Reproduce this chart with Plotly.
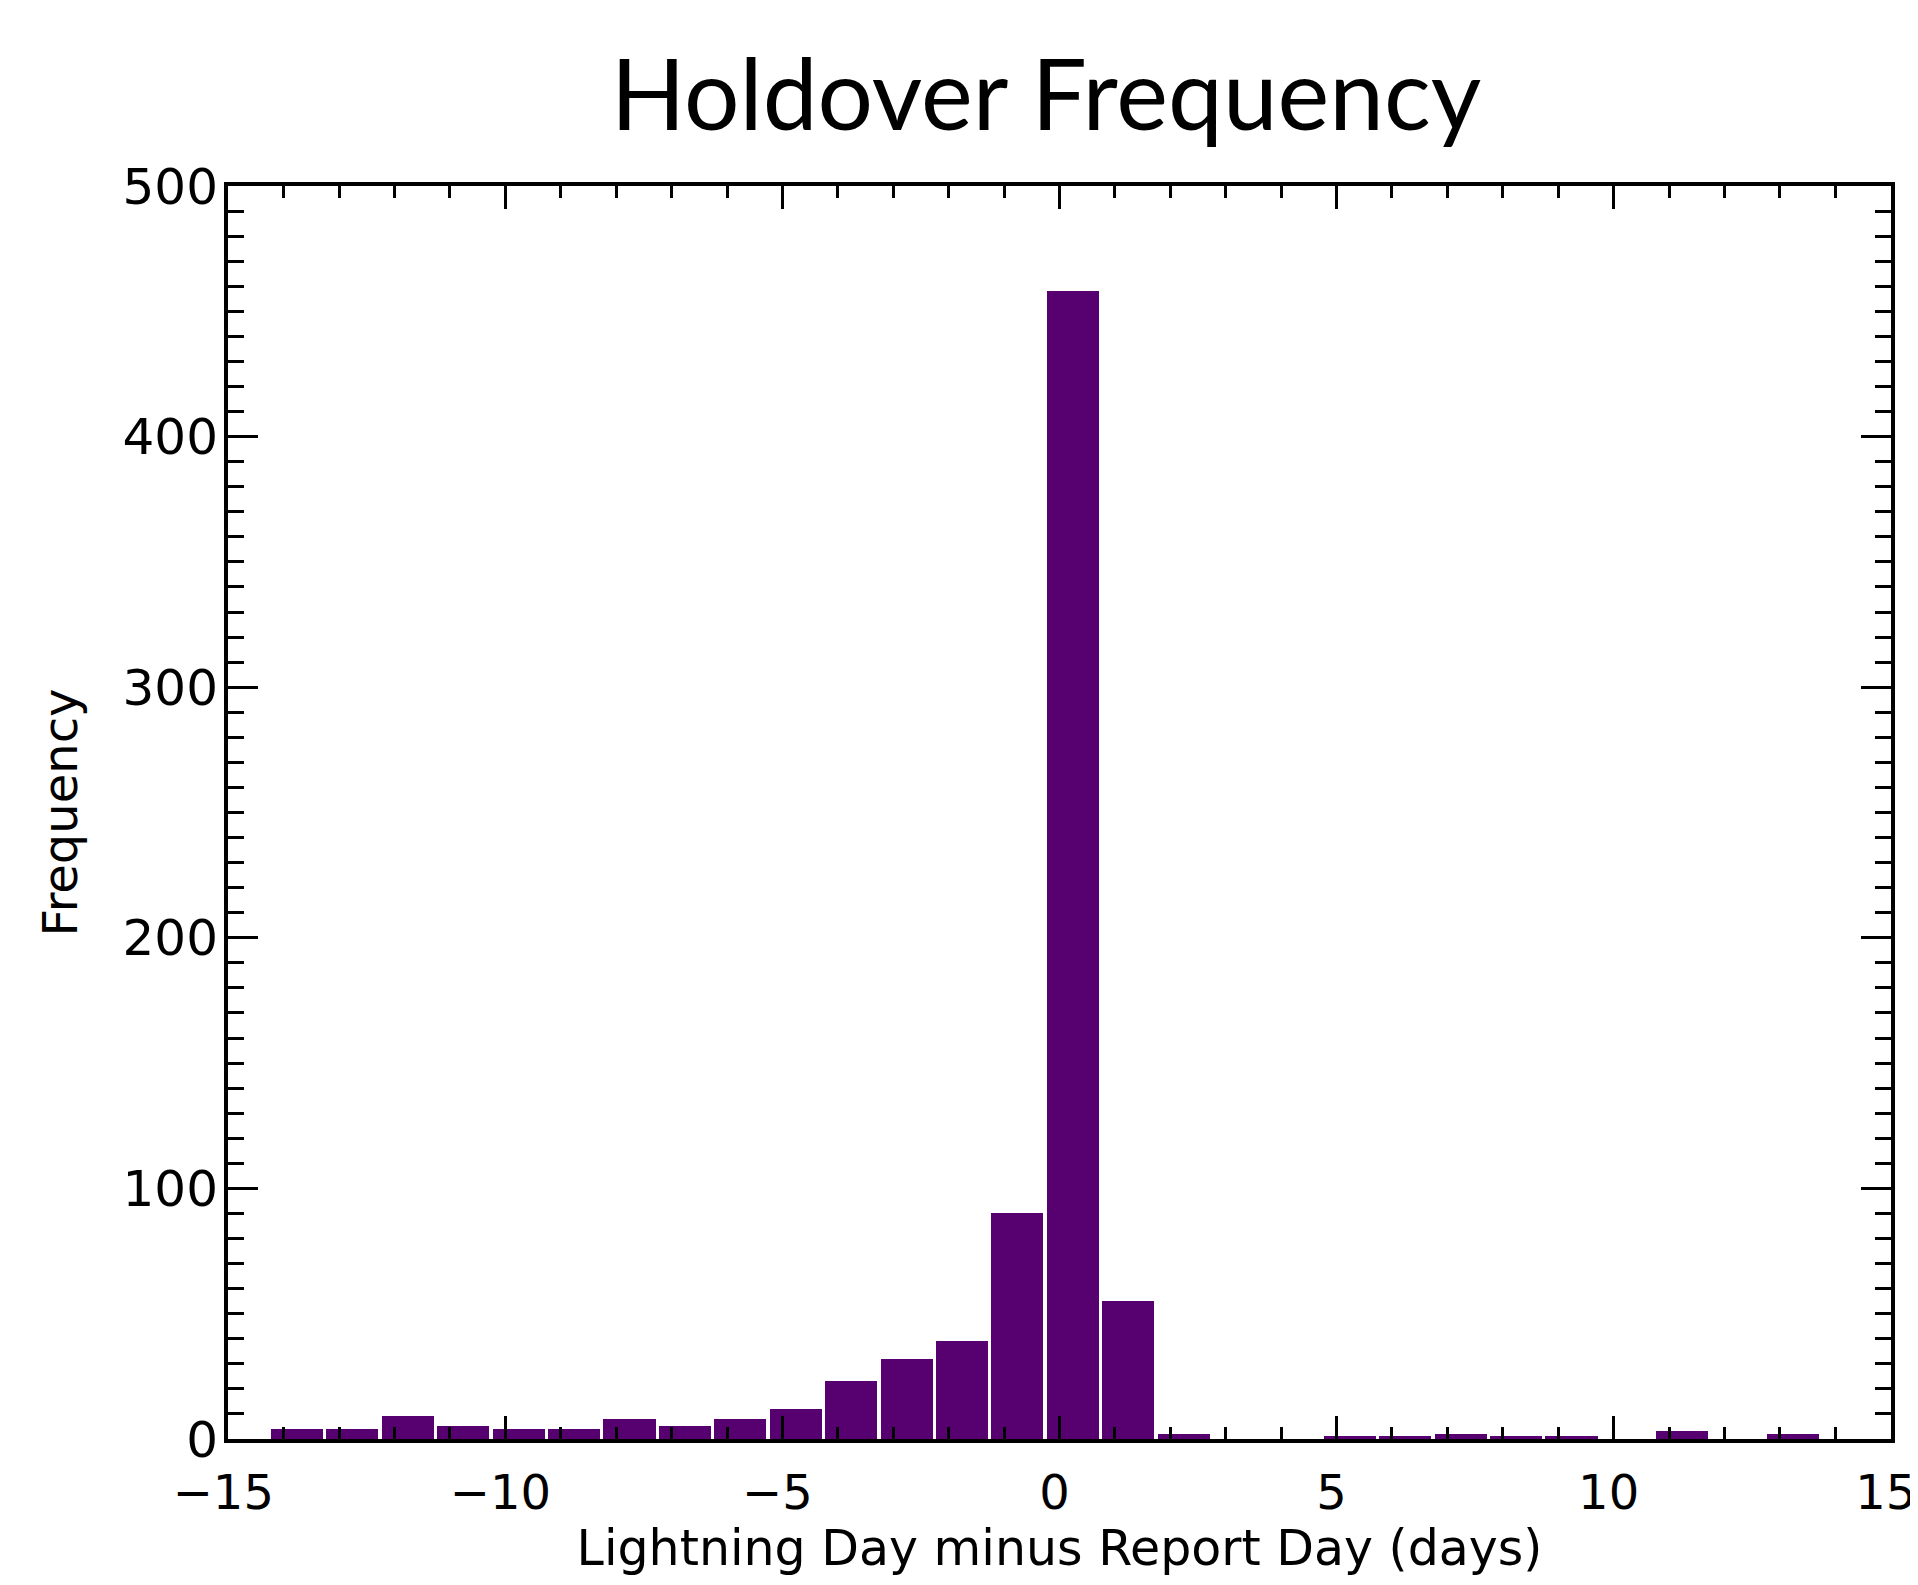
import plotly.graph_objects as go

# Data
days = list(range(-14, 14))
counts = [4, 4, 9, 5, 4, 4, 8, 5, 8, 12, 23, 32, 39, 90, 458, 55,
          2, 0, 0, 1, 1, 2, 1, 1, 0, 3, 0, 2]

title_text = "Holdover Frequency"
x_title = "Lightning Day minus Report Day (days)"
y_title = "Frequency"
x_ticks = [-15, -10, -5, 0, 5, 10, 15]
x_ticklabels = ["\u221215", "\u221210", "\u22125", "0", "5", "10", "15"]
y_ticks = [0, 100, 200, 300, 400, 500]

BAR_COLOR = "#570070"
FONT = "DejaVu Sans"

# page body has an 8px default margin; size the figure to fit the window
W, H = 1910, 1577

fig = go.Figure()
fig.add_trace(go.Bar(
    x=days, y=counts,
    width=0.94, offset=-0.23,
    marker=dict(color=BAR_COLOR, line=dict(width=0)),
    hoverinfo="x+y",
))

axis_common = dict(
    showline=True, linecolor="black", linewidth=4, mirror="allticks",
    ticks="inside", tickcolor="black", tickwidth=3,
    showgrid=False, zeroline=False, automargin=False,
    ticklabeloverflow="allow",
)

fig.update_xaxes(
    range=[-15.005, 15.005], tickvals=x_ticks, ticktext=x_ticklabels, ticklen=23,
    tickfont=dict(family=FONT, size=48, color="black"),
    minor=dict(dtick=1, ticks="inside", ticklen=12, tickwidth=3, tickcolor="black", showgrid=False),
    title=dict(text=x_title, font=dict(family=FONT, size=49, color="black"), standoff=11),
    ticklabelstandoff=8, ticklabelshift=-5,
    **axis_common,
)
fig.update_yaxes(
    range=[0, 500], tickvals=y_ticks, ticklen=30,
    tickfont=dict(family=FONT, size=50, color="black"),
    minor=dict(dtick=10, ticks="inside", ticklen=16, tickwidth=3, tickcolor="black", showgrid=False),
    title=dict(text=y_title, font=dict(family=FONT, size=48, color="black"), standoff=31),
    ticklabelstandoff=-4,
    **axis_common,
)

fig.update_layout(
    width=W, height=H,
    margin=dict(l=220, r=27, t=178, b=146, autoexpand=False),
    paper_bgcolor="white", plot_bgcolor="white",
    showlegend=False, bargap=0,
    title=dict(text=title_text, font=dict(family="Lato", size=98, color="black"),
               x=1038 / W, xanchor="center", xref="container",
               y=1 - 88 / H, yanchor="middle", yref="container"),
)

fig.write_html("out.html")
